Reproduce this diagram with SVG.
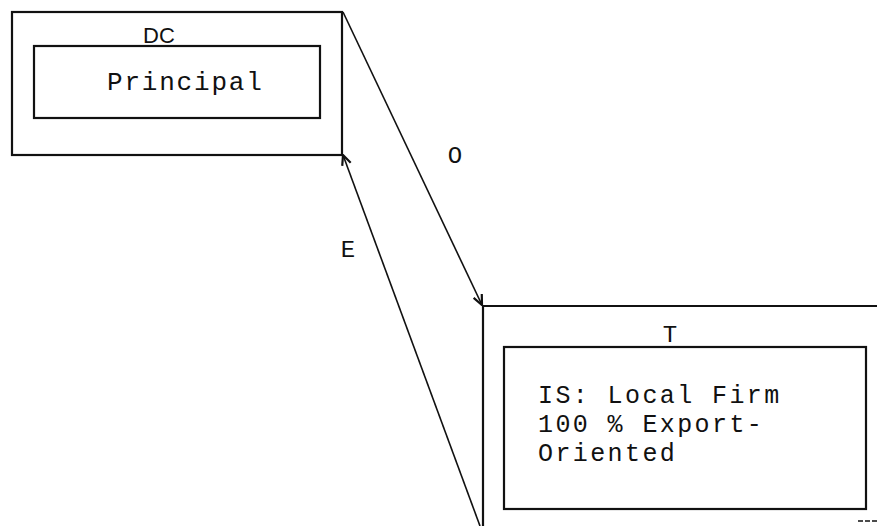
<svg xmlns="http://www.w3.org/2000/svg" width="877" height="526" viewBox="0 0 877 526">
<style>
.box{fill:none;stroke:#111;stroke-width:2.2}
.thin{fill:none;stroke:#111;stroke-width:1.6}
.mono{font-family:"Liberation Mono","Courier New",monospace;fill:#111}
.sans{font-family:"Liberation Sans",Arial,sans-serif;fill:#111}
</style>
<defs>
<marker id="arr" viewBox="0 0 12 12" refX="11" refY="6" markerWidth="12" markerHeight="12" markerUnits="userSpaceOnUse" orient="auto">
<path d="M1,1.5 L11,6 L1,10.5" fill="none" stroke="#111" stroke-width="2.2"/>
</marker>
</defs>
<rect width="877" height="526" fill="#fff"/>
<g id="dc">
<rect class="box" x="12" y="12" width="330" height="143"/>
<rect class="box" x="34" y="46" width="286" height="72"/>
<text class="sans" x="143" y="43" font-size="22">DC</text>
<text class="mono" x="107" y="90" font-size="26" letter-spacing="1.8">Principal</text>
</g>
<g id="t">
<path class="box" d="M877,306 H483 V526"/>
<path class="thin" d="M858,521 H877" stroke-dasharray="5,2"/>
<rect class="box" x="504" y="347" width="362" height="162"/>
<text class="mono" x="670" y="342" font-size="24" text-anchor="middle">T</text>
<text class="mono" font-size="25" letter-spacing="2.4">
<tspan x="538" y="403">IS: Local Firm</tspan>
<tspan x="538" y="432">100 % Export-</tspan>
<tspan x="538" y="461">Oriented</tspan>
</text>
</g>
<g id="connectors">
<path class="thin" d="M343,12 L482,305" marker-end="url(#arr)"/>
<path class="thin" d="M480,526 L343,155" marker-end="url(#arr)"/>
<text class="mono" x="455" y="163" font-size="24" text-anchor="middle">O</text>
<text class="mono" x="348" y="257" font-size="24" text-anchor="middle">E</text>
</g>
</svg>
